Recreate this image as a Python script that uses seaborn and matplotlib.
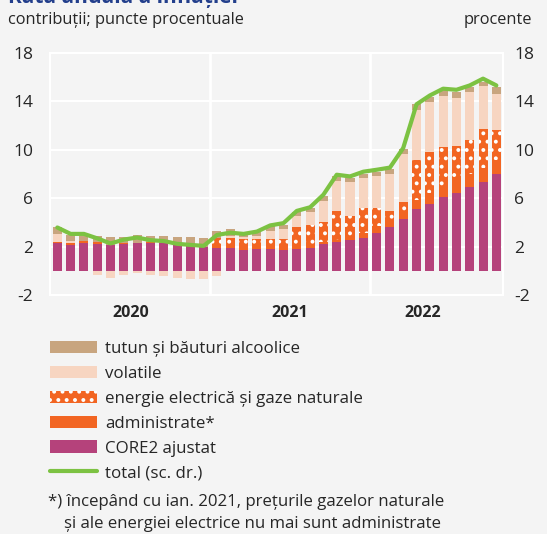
import numpy as np
import pandas as pd
import matplotlib
matplotlib.use("Agg")
import matplotlib.pyplot as plt
import matplotlib.patches as mpatches
from matplotlib.lines import Line2D
import seaborn as sns

# luni: ian. 2020 - oct. 2022
luni = [f"{an}-{m:02d}" for an in (2020, 2021, 2022) for m in range(1, 13)][:34]

core2 = [2.26, 2.15, 2.29, 2.20, 2.12, 2.20, 2.29, 2.29, 2.29, 2.12, 2.07, 1.93,
         1.87, 1.85, 1.71, 1.79, 1.79, 1.75, 1.79, 1.87, 2.20, 2.34, 2.56, 2.75,
         3.10, 3.58, 4.24, 5.10, 5.56, 6.06, 6.47, 6.89, 7.38, 8.04]
administrate = [0.14, 0.14, 0.19, 0.14, 0.05, 0.08, 0.03, 0.05, 0.03, 0.03, 0.03, 0.03,
                0.19, 0.14, 0.19, 0.14, 0.14, 0.15, 0.19, 0.19, 0.19, 0.22, 0.19, 0.41,
                0.62, 0.50, 0.66, 0.74, 0.91, 0.96, 1.10, 1.10, 1.10, 1.10]
energie = [0, 0, 0, 0, 0, 0, 0, 0, 0, 0, 0, 0,
           0.63, 0.75, 0.69, 0.69, 0.69, 0.74, 1.65, 1.71, 1.68, 2.40, 1.79, 2.07,
           1.48, 0.83, 0.80, 3.33, 3.31, 3.22, 2.75, 2.84, 3.22, 2.50]
volatile = [0.63, 0.19, -0.05, -0.33, -0.60, -0.35, -0.20, -0.33, -0.45, -0.60, -0.69, -0.69,
            -0.40, 0.15, 0.19, 0.28, 0.69, 0.83, 0.91, 1.05, 1.71, 2.48, 2.84, 2.48,
            2.66, 3.09, 3.94, 4.10, 4.13, 4.21, 3.99, 3.91, 3.58, 2.97]
tutun = [0.55, 0.50, 0.36, 0.55, 0.63, 0.55, 0.66, 0.50, 0.55, 0.63, 0.69, 0.72,
         0.60, 0.55, 0.28, 0.33, 0.36, 0.33, 0.28, 0.36, 0.41, 0.41, 0.33, 0.28,
         0.33, 0.41, 0.41, 0.50, 0.47, 0.47, 0.47, 0.41, 0.36, 0.62]
total = [3.58, 3.05, 3.05, 2.68, 2.26, 2.58, 2.75, 2.53, 2.46, 2.23, 2.14, 2.06,
         2.96, 3.15, 3.05, 3.24, 3.75, 3.94, 4.95, 5.25, 6.29, 7.94, 7.80, 8.19,
         8.35, 8.53, 10.15, 13.76, 14.49, 15.05, 14.96, 15.32, 15.88, 15.32]

ani = ["2020", "2021", "2022"]
ani_poz = [5.5, 17.5, 27.5]
yticks = [-2, 2, 6, 10, 14, 18]

BG = "#f4f4f4"
C_TUTUN = "#c8a57f"
C_VOL = "#f7d5c1"
C_ORANGE = "#f26522"
C_CORE = "#b5427b"
C_TOTAL = "#7cc242"
TXT = "#262626"

sns.set_theme(style="white")
plt.rcParams["font.family"] = ["Open Sans", "DejaVu Sans"]
plt.rcParams["hatch.linewidth"] = 1.6
plt.rcParams["axes.unicode_minus"] = False

fig = plt.figure(figsize=(5.47, 5.34), dpi=100, facecolor=BG)
ax = fig.add_axes([50 / 547, 1 - 295 / 534, 453 / 547, 242 / 534])
ax.set_facecolor(BG)

straturi = [
    ("CORE2 ajustat", core2, C_CORE, None),
    ("administrate*", administrate, C_ORANGE, None),
    ("energie electrică și gaze naturale", energie, C_ORANGE, ".."),
    ("volatile", volatile, C_VOL, None),
    ("tutun și băuturi alcoolice", tutun, C_TUTUN, None),
]

baza_poz = np.zeros(len(luni))
baza_neg = np.zeros(len(luni))
for nume, vals, col, hatch in straturi:
    v = np.array(vals, dtype=float)
    bottom = np.where(v >= 0, baza_poz, baza_neg)
    sns.barplot(x=luni, y=v, order=luni, bottom=bottom, color=col, saturation=1,
                width=0.68, errorbar=None, hatch=hatch, edgecolor="white",
                linewidth=0, ax=ax, zorder=2)
    baza_poz += np.clip(v, 0, None)
    baza_neg += np.clip(v, None, 0)

ax.set_xlim(-0.55, 33.5)
ax.set_ylim(-2, 18)
ax.set_yticks(yticks)
ax.set_xticks([])
ax.set_xlabel("")
ax.set_ylabel("")
for y in yticks:
    ax.axhline(y, color="white", lw=1.5, zorder=1)
for xv in (11.5, 23.5):
    ax.axvline(xv, color="white", lw=2, zorder=1)
for s in ax.spines.values():
    s.set_color("white")
    s.set_linewidth(1.5)
ax.tick_params(axis="y", length=0, pad=12, labelsize=12.5, labelcolor=TXT)

ax2 = ax.twinx()
sns.lineplot(x=np.arange(len(total)), y=total, color=C_TOTAL, lw=3, ax=ax2, zorder=3)
ax2.set_ylim(-2, 18)
ax2.set_yticks(yticks)
ax2.set_xlim(-0.55, 33.5)
ax2.tick_params(axis="y", length=0, pad=8, labelsize=12.5, labelcolor=TXT)
for s in ax2.spines.values():
    s.set_color("white")
    s.set_linewidth(1.5)

for an, p in zip(ani, ani_poz):
    ax.text(p, -3.5, an, ha="center", va="center", fontsize=11.5,
            fontweight="bold", color=TXT)

fig.text(8 / 547, 1 - 20 / 534, "contribuții; puncte procentuale", fontsize=11.8,
         color=TXT, va="center", ha="left")
fig.text(532 / 547, 1 - 20 / 534, "procente", fontsize=11.8, color=TXT,
         va="center", ha="right")
# titlul e tăiat sus, ca în original
fig.text(8 / 547, 1 - 2.5 / 534, "Rata anuală a inflației", fontsize=15,
         fontweight="bold", color="#233f8c", va="baseline", ha="left")

handles = [
    mpatches.Patch(facecolor=C_TUTUN, linewidth=0),
    mpatches.Patch(facecolor=C_VOL, linewidth=0),
    mpatches.Patch(facecolor=C_ORANGE, hatch="..", edgecolor="white", linewidth=0),
    mpatches.Patch(facecolor=C_ORANGE, linewidth=0),
    mpatches.Patch(facecolor=C_CORE, linewidth=0),
    Line2D([0], [0], color=C_TOTAL, lw=3),
]
labels = ["tutun și băuturi alcoolice", "volatile", "energie electrică și gaze naturale",
          "administrate*", "CORE2 ajustat", "total (sc. dr.)"]
leg = fig.legend(handles, labels, loc="upper left",
                 bbox_to_anchor=(43 / 547, 1 - 334 / 534), frameon=False,
                 fontsize=12.2, handlelength=2.8, handleheight=0.75,
                 handletextpad=0.45, labelspacing=0.52, borderaxespad=0)
for t in leg.get_texts():
    t.set_color(TXT)

fig.text(48 / 547, 1 - 502 / 534, "*) începând cu ian. 2021, prețurile gazelor naturale",
         fontsize=12.1, color=TXT, va="center", ha="left")
fig.text(64 / 547, 1 - 524 / 534, "și ale energiei electrice nu mai sunt administrate",
         fontsize=12.1, color=TXT, va="center", ha="left")

fig.savefig("out.png", dpi=100, facecolor=BG)
